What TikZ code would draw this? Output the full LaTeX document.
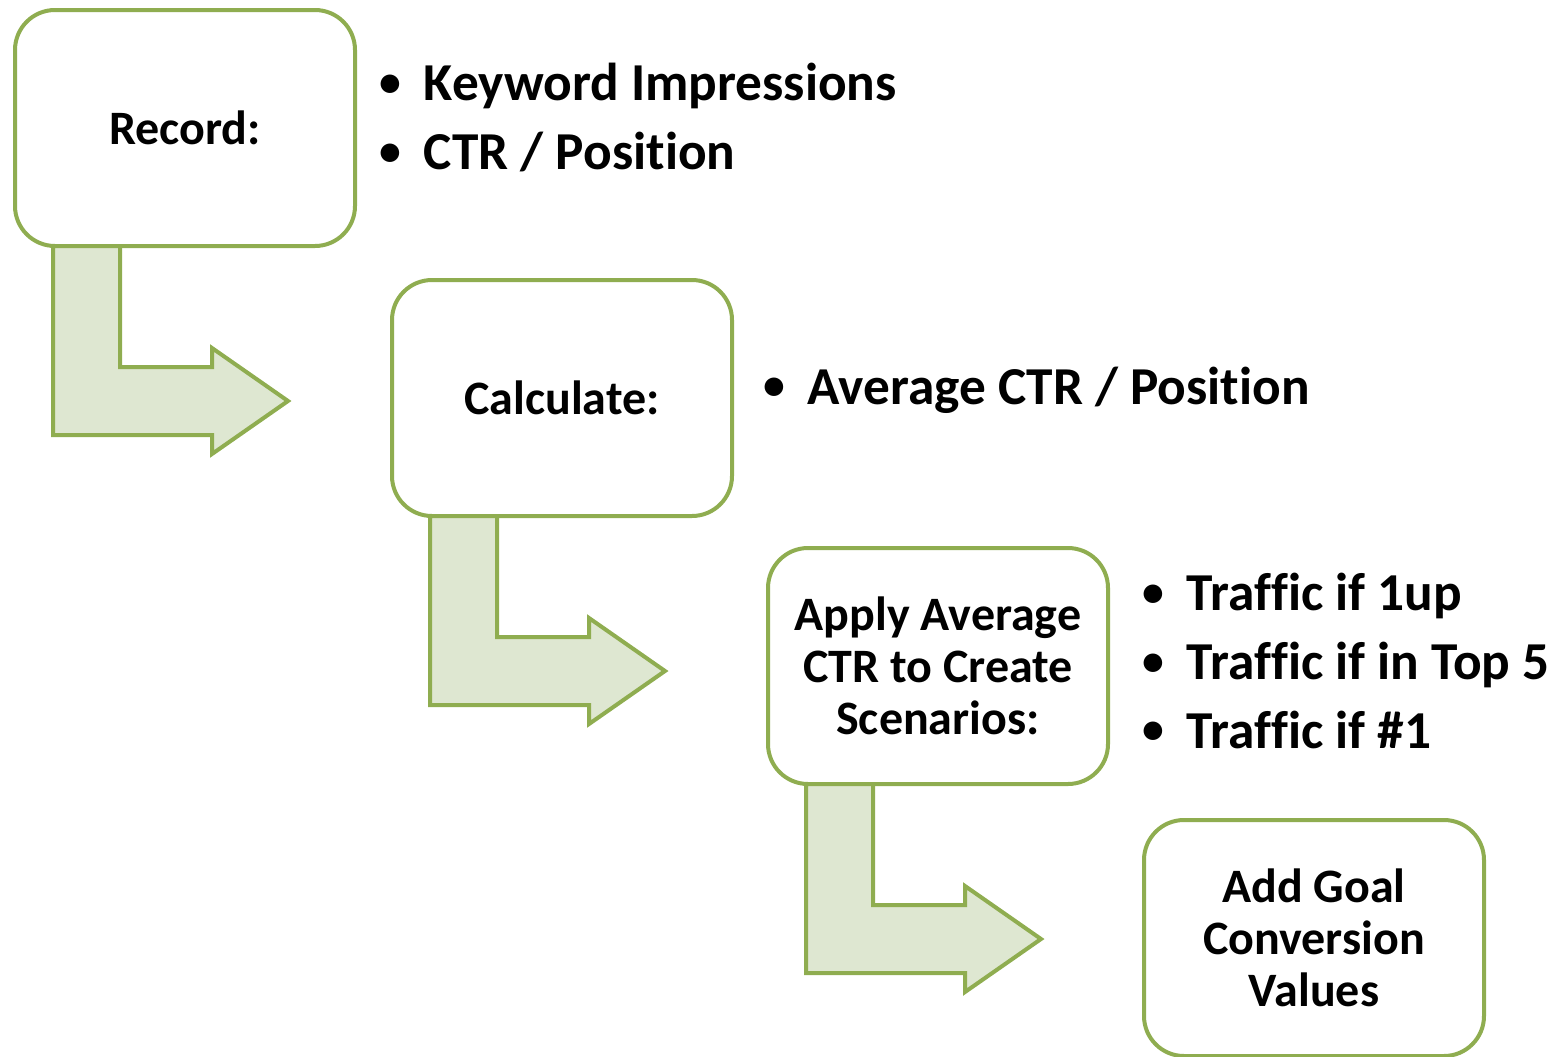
\documentclass[tikz,border=0pt]{standalone}
\usepackage{graphicx}
\usepackage{fontspec}
\setmainfont[Ligatures=CommonOff]{Carlito}
\usetikzlibrary{positioning,calc}
\definecolor{stepgreen}{RGB}{143,173,80}
\definecolor{stepfill}{RGB}{222,231,209}
\tikzset{
  stepbox/.style={draw=stepgreen, line width=3pt, rounded corners=30pt, fill=white,
    minimum width=255pt, minimum height=177pt, outer sep=0pt, inner sep=0pt,
    align=center, font=\bfseries\fontsize{36}{39}\selectfont},
  bulletlist/.style={anchor=west, align=left, inner sep=0pt,
    font=\bfseries\fontsize{40}{51.5}\selectfont},
  bentarrow/.style={draw=stepgreen, fill=stepfill, line width=3pt, line join=miter}
}
\newcommand{\bentarrowfrom}[1]{%
  \draw[bentarrow, shift={(#1.south west)}] (38,0) -- (38,189) -- (197,189) -- (197,208)
    -- (273,155) -- (197,102) -- (197,121) -- (105,121) -- (105,0) -- cycle;}
\newcommand{\itm}{\makebox[33.5pt][l]{\raisebox{0.08em}{\scalebox{0.82}{\textbullet}}}}
\begin{document}
\begin{tikzpicture}[x=0.75pt,y=0.75pt,yscale=-1,xscale=1]
            \useasboundingbox (0,0) rectangle (1561,1057);
            % Boxes
            \node[stepbox] (rec) at (185,128) {Record:};
            \node[stepbox] (calc) at (562,398) {Calculate:};
            \node[stepbox] (apply) at (938,666) {Apply Average\\CTR to Create\\Scenarios:};
            \node[stepbox] (goal) at (1314,938) {Add Goal\\Conversion\\Values};
            % Bent arrows
            \bentarrowfrom{rec}
            \bentarrowfrom{calc}
            \bentarrowfrom{apply}
            % Bullet lists
            \node[bulletlist] (recitems) at (379,117.5) {\itm Keyword Impressions\\\itm CTR / Position};
            \node[bulletlist] (calcitems) at (763,390) {\itm Average CTR / Position};
            \node[bulletlist] (applyitems) at (1142,661) {\itm Traffic if 1up\\\itm Traffic if in Top 5\\\itm Traffic if \#1};
        \end{tikzpicture}
\end{document}
